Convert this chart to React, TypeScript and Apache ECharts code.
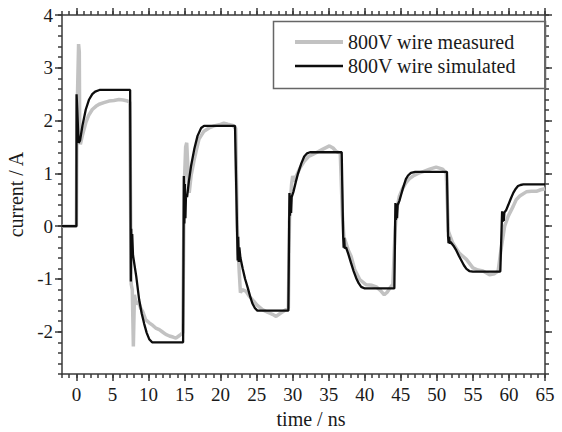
import React, { useEffect, useRef } from "react";
import * as echarts from "echarts";

// Axis ranges and labelled tick positions
const timeRange: [number, number] = [-2, 65];
const currentRange: [number, number] = [-2.8, 4];
const timeTicks = [0, 5, 10, 15, 20, 25, 30, 35, 40, 45, 50, 55, 60, 65];
const currentTicks = [-2, -1, 0, 1, 2, 3, 4];

const measuredName = "800V wire measured";
const simulatedName = "800V wire simulated";

// Measured current on the wire: [time ns, current A]
const measured: [number, number][] = [
  [-2, 0], [0, 0], [0.05, 1.5], [0.15, 2.5], [0.3, 3.45], [0.4, 3.3], [0.45, 2.0],
  [0.55, 1.55], [0.8, 1.7], [1.3, 1.96], [1.7, 2.1], [2.2, 2.21], [2.7, 2.27],
  [3.15, 2.31], [3.8, 2.34], [4.5, 2.37], [5.2, 2.38], [5.9, 2.4], [6.5, 2.39],
  [7.1, 2.37], [7.4, 2.35],
  [7.6, -1.1], [7.75, -1.2], [7.9, -2.28], [8.05, -1.3], [8.3, -1.48], [8.6, -1.42],
  [8.9, -1.55], [9.2, -1.62], [9.6, -1.77], [10.1, -1.83], [10.6, -1.88], [11.0, -1.93],
  [11.5, -1.96], [11.9, -2.0], [12.4, -2.05], [12.9, -2.08], [13.4, -2.1], [13.8, -2.12],
  [14.2, -2.08], [14.5, -2.05], [14.75, -2.02],
  [14.9, 0.0], [15.0, 0.9], [15.15, 1.5], [15.3, 1.58], [15.5, 1.0], [15.65, 0.63],
  [15.9, 0.95], [16.35, 1.27], [17.0, 1.65], [17.7, 1.8], [18.4, 1.86], [19.1, 1.9],
  [19.8, 1.92], [20.45, 1.95], [21.0, 1.93], [21.7, 1.91], [22.1, 1.85],
  [22.3, 0.0], [22.45, -0.5], [22.6, -0.9], [22.75, -1.26], [23.0, -1.2], [23.5, -1.23],
  [24.0, -1.33], [24.4, -1.39], [25.1, -1.5], [25.8, -1.58], [26.5, -1.63], [27.2, -1.67],
  [27.7, -1.71], [28.3, -1.65], [29.1, -1.58], [29.4, -1.55],
  [29.55, 0.1], [29.7, 0.5], [29.85, 0.8], [30.0, 0.95], [30.2, 0.85], [30.5, 0.95],
  [31.0, 1.1], [31.6, 1.23], [32.2, 1.32], [32.8, 1.36], [33.5, 1.41], [34.2, 1.46],
  [35.1, 1.52], [35.6, 1.48], [36.0, 1.42], [36.6, 1.38],
  [36.9, 0.2], [37.1, -0.2], [37.4, -0.32], [37.7, -0.45], [38.1, -0.57], [38.6, -0.82],
  [39.3, -1.01], [40.2, -1.11], [41.0, -1.12], [41.6, -1.15], [42.2, -1.22], [42.7, -1.3],
  [43.1, -1.25], [43.5, -1.17], [43.9, -1.1],
  [44.2, -0.1], [44.4, 0.3], [44.8, 0.57], [45.2, 0.7], [45.7, 0.82], [46.2, 0.9],
  [46.7, 0.95], [47.4, 1.0], [48.2, 1.04], [49.0, 1.08], [49.9, 1.12], [50.8, 1.08],
  [51.3, 1.0],
  [51.6, -0.1], [52.2, -0.32], [53.1, -0.51], [54.1, -0.63], [55.0, -0.79], [55.7, -0.83],
  [56.4, -0.85], [57.3, -0.92], [58.0, -0.9], [58.5, -0.85],
  [58.9, -0.44], [59.4, 0.0], [59.9, 0.19], [60.6, 0.38], [61.0, 0.5], [61.5, 0.57],
  [62.4, 0.65], [63.1, 0.66], [63.8, 0.66], [64.4, 0.69], [65, 0.71],
];

// Simulated current on the wire: [time ns, current A]
const simulated: [number, number][] = [
  [-2, 0], [0, 0],
  [0.02, 2.5], [0.12, 2.2], [0.3, 1.58], [0.5, 1.62], [0.83, 1.9], [1.3, 2.21],
  [1.76, 2.4], [2.2, 2.5], [2.6, 2.55], [3.2, 2.58], [7.45, 2.58],
  [7.55, -1.05], [7.6, -0.05], [7.68, -0.6], [7.74, -0.15], [7.85, -0.55], [8.3, -0.95],
  [8.7, -1.39], [9.05, -1.65], [9.4, -1.85], [9.75, -2.02], [10.1, -2.14], [10.5, -2.2],
  [14.8, -2.2],
  [14.9, 0.95], [14.97, 0.05], [15.05, 0.8], [15.12, 0.15], [15.2, 0.6], [15.35, 0.55],
  [15.6, 0.85], [15.9, 1.14], [16.35, 1.46], [16.8, 1.71], [17.3, 1.86], [17.7, 1.9],
  [22.0, 1.9],
  [22.3, -0.16], [22.37, -0.65], [22.44, -0.2], [22.52, -0.68], [22.6, -0.4], [22.75, -0.6],
  [23.06, -0.8], [23.4, -1.0], [23.75, -1.16], [24.1, -1.33], [24.4, -1.46], [24.75, -1.55],
  [25.1, -1.6], [29.4, -1.6],
  [29.55, 0.63], [29.62, 0.2], [29.7, 0.58], [29.78, 0.25], [29.86, 0.55], [30.1, 0.65],
  [30.4, 0.82], [30.7, 0.98], [31.2, 1.19], [31.6, 1.32], [32.0, 1.38], [32.4, 1.4],
  [36.8, 1.4],
  [37.0, -0.19], [37.07, -0.41], [37.14, -0.22], [37.22, -0.42], [37.4, -0.4], [37.7, -0.52],
  [38.1, -0.7], [38.45, -0.85], [38.8, -0.98], [39.15, -1.08], [39.5, -1.15], [40.0, -1.18],
  [44.1, -1.18],
  [44.25, 0.44], [44.32, 0.12], [44.4, 0.42], [44.48, 0.15], [44.56, 0.4], [44.8, 0.48],
  [45.05, 0.6], [45.3, 0.72], [45.7, 0.89], [46.0, 0.96], [46.4, 1.01], [47.0, 1.03],
  [51.4, 1.03],
  [51.55, -0.19], [51.62, -0.32], [51.7, -0.2], [51.78, -0.33], [51.9, -0.3], [52.3, -0.37],
  [52.7, -0.46], [53.05, -0.56], [53.4, -0.65], [53.75, -0.74], [54.1, -0.81], [54.5, -0.85],
  [55.0, -0.86], [58.8, -0.86],
  [59.05, 0.28], [59.12, 0.08], [59.2, 0.27], [59.28, 0.1], [59.36, 0.26], [59.6, 0.3],
  [59.9, 0.4], [60.25, 0.52], [60.6, 0.63], [60.95, 0.71], [61.25, 0.76], [61.6, 0.78],
  [62.0, 0.79], [65, 0.79],
];

const FONT = "'Liberation Serif', 'Times New Roman', serif";
const INK = "#1a1a1a";
const FRAME = "#3a3a3a";

export default function App() {
  const ref = useRef<HTMLDivElement>(null);

  useEffect(() => {
    if (!ref.current) return;
    const chart = echarts.init(ref.current, null, { renderer: "svg" });

    const lineStyle = { color: FRAME, width: 1.5 };
    const tickLabel = { fontFamily: FONT, fontSize: 19, color: INK };
    const nameLabel = { fontFamily: FONT, fontSize: 20, color: INK };

    // Each side of the frame gets a minor-tick axis and a major-tick axis
    const xBase = {
      type: "value" as const,
      min: timeRange[0],
      max: timeRange[1],
      splitLine: { show: false },
    };
    const yBase = {
      type: "value" as const,
      min: currentRange[0],
      max: currentRange[1],
      splitLine: { show: false },
    };
    const minorTick = { show: true, inside: false, length: 4, lineStyle };
    const majorTick = (values: number[]) => ({
      show: true,
      inside: false,
      length: 7,
      lineStyle,
      customValues: values,
    });
    const frameLine = { show: true, onZero: false, lineStyle };
    const noLine = { show: false, onZero: false };

    const xAxis = [
      {
        ...xBase,
        position: "bottom",
        interval: 1,
        axisLine: frameLine,
        axisTick: minorTick,
        axisLabel: { ...tickLabel, margin: 11, customValues: timeTicks },
        name: "time / ns",
        nameLocation: "middle",
        nameGap: 35,
        nameTextStyle: { ...nameLabel, padding: [0, 0, 0, 15] },
      },
      {
        ...xBase,
        position: "bottom",
        axisLine: noLine,
        axisTick: majorTick(timeTicks),
        axisLabel: { show: false },
      },
      {
        ...xBase,
        position: "top",
        interval: 1,
        axisLine: frameLine,
        axisTick: minorTick,
        axisLabel: { show: false },
      },
      {
        ...xBase,
        position: "top",
        axisLine: noLine,
        axisTick: majorTick(timeTicks),
        axisLabel: { show: false },
      },
    ];

    const yAxis = [
      {
        ...yBase,
        position: "left",
        interval: 0.2,
        axisLine: frameLine,
        axisTick: minorTick,
        axisLabel: { ...tickLabel, margin: 9, customValues: currentTicks },
        name: "current / A",
        nameLocation: "middle",
        nameGap: 30,
        nameTextStyle: { ...nameLabel },
      },
      {
        ...yBase,
        position: "left",
        axisLine: noLine,
        axisTick: majorTick(currentTicks),
        axisLabel: { show: false },
      },
      {
        ...yBase,
        position: "right",
        interval: 0.2,
        axisLine: frameLine,
        axisTick: minorTick,
        axisLabel: { show: false },
      },
      {
        ...yBase,
        position: "right",
        axisLine: noLine,
        axisTick: majorTick(currentTicks),
        axisLabel: { show: false },
      },
    ];

    chart.setOption({
      animation: false,
      backgroundColor: "#ffffff",
      grid: { left: 62, right: 17, top: 15, bottom: 58, outerBoundsMode: "none" },
      xAxis,
      yAxis,
      legend: {
        orient: "vertical",
        left: 293,
        top: 32,
        padding: 0,
        itemGap: 4,
        itemWidth: 48,
        itemHeight: 14,
        itemStyle: { opacity: 0 },
        textStyle: { ...nameLabel, lineHeight: 20 },
        data: [
          { name: measuredName, lineStyle: { width: 4 }, itemStyle: { opacity: 0 } },
          { name: simulatedName, lineStyle: { width: 2.6 }, itemStyle: { opacity: 0 } },
        ],
      },
      graphic: [
        {
          type: "rect",
          left: 271,
          top: 19,
          shape: { width: 272, height: 67 },
          style: { fill: "none", stroke: "#666", lineWidth: 1.5 },
          z: 100,
        },
      ],
      series: [
        {
          name: measuredName,
          type: "line",
          data: measured,
          showSymbol: false,
          symbol: "none",
          lineStyle: { color: "#c2c2c2", width: 3.5 },
          itemStyle: { color: "#c2c2c2" },
          z: 2,
        },
        {
          name: simulatedName,
          type: "line",
          data: simulated,
          showSymbol: false,
          symbol: "none",
          lineStyle: { color: "#0d0d0d", width: 2.3 },
          itemStyle: { color: "#0d0d0d" },
          z: 3,
        },
      ],
    });

    return () => chart.dispose();
  }, []);

  return (
    <div
      ref={ref}
      style={{ position: "fixed", left: 0, top: 0, width: 562, height: 432, background: "#fff" }}
    />
  );
}
